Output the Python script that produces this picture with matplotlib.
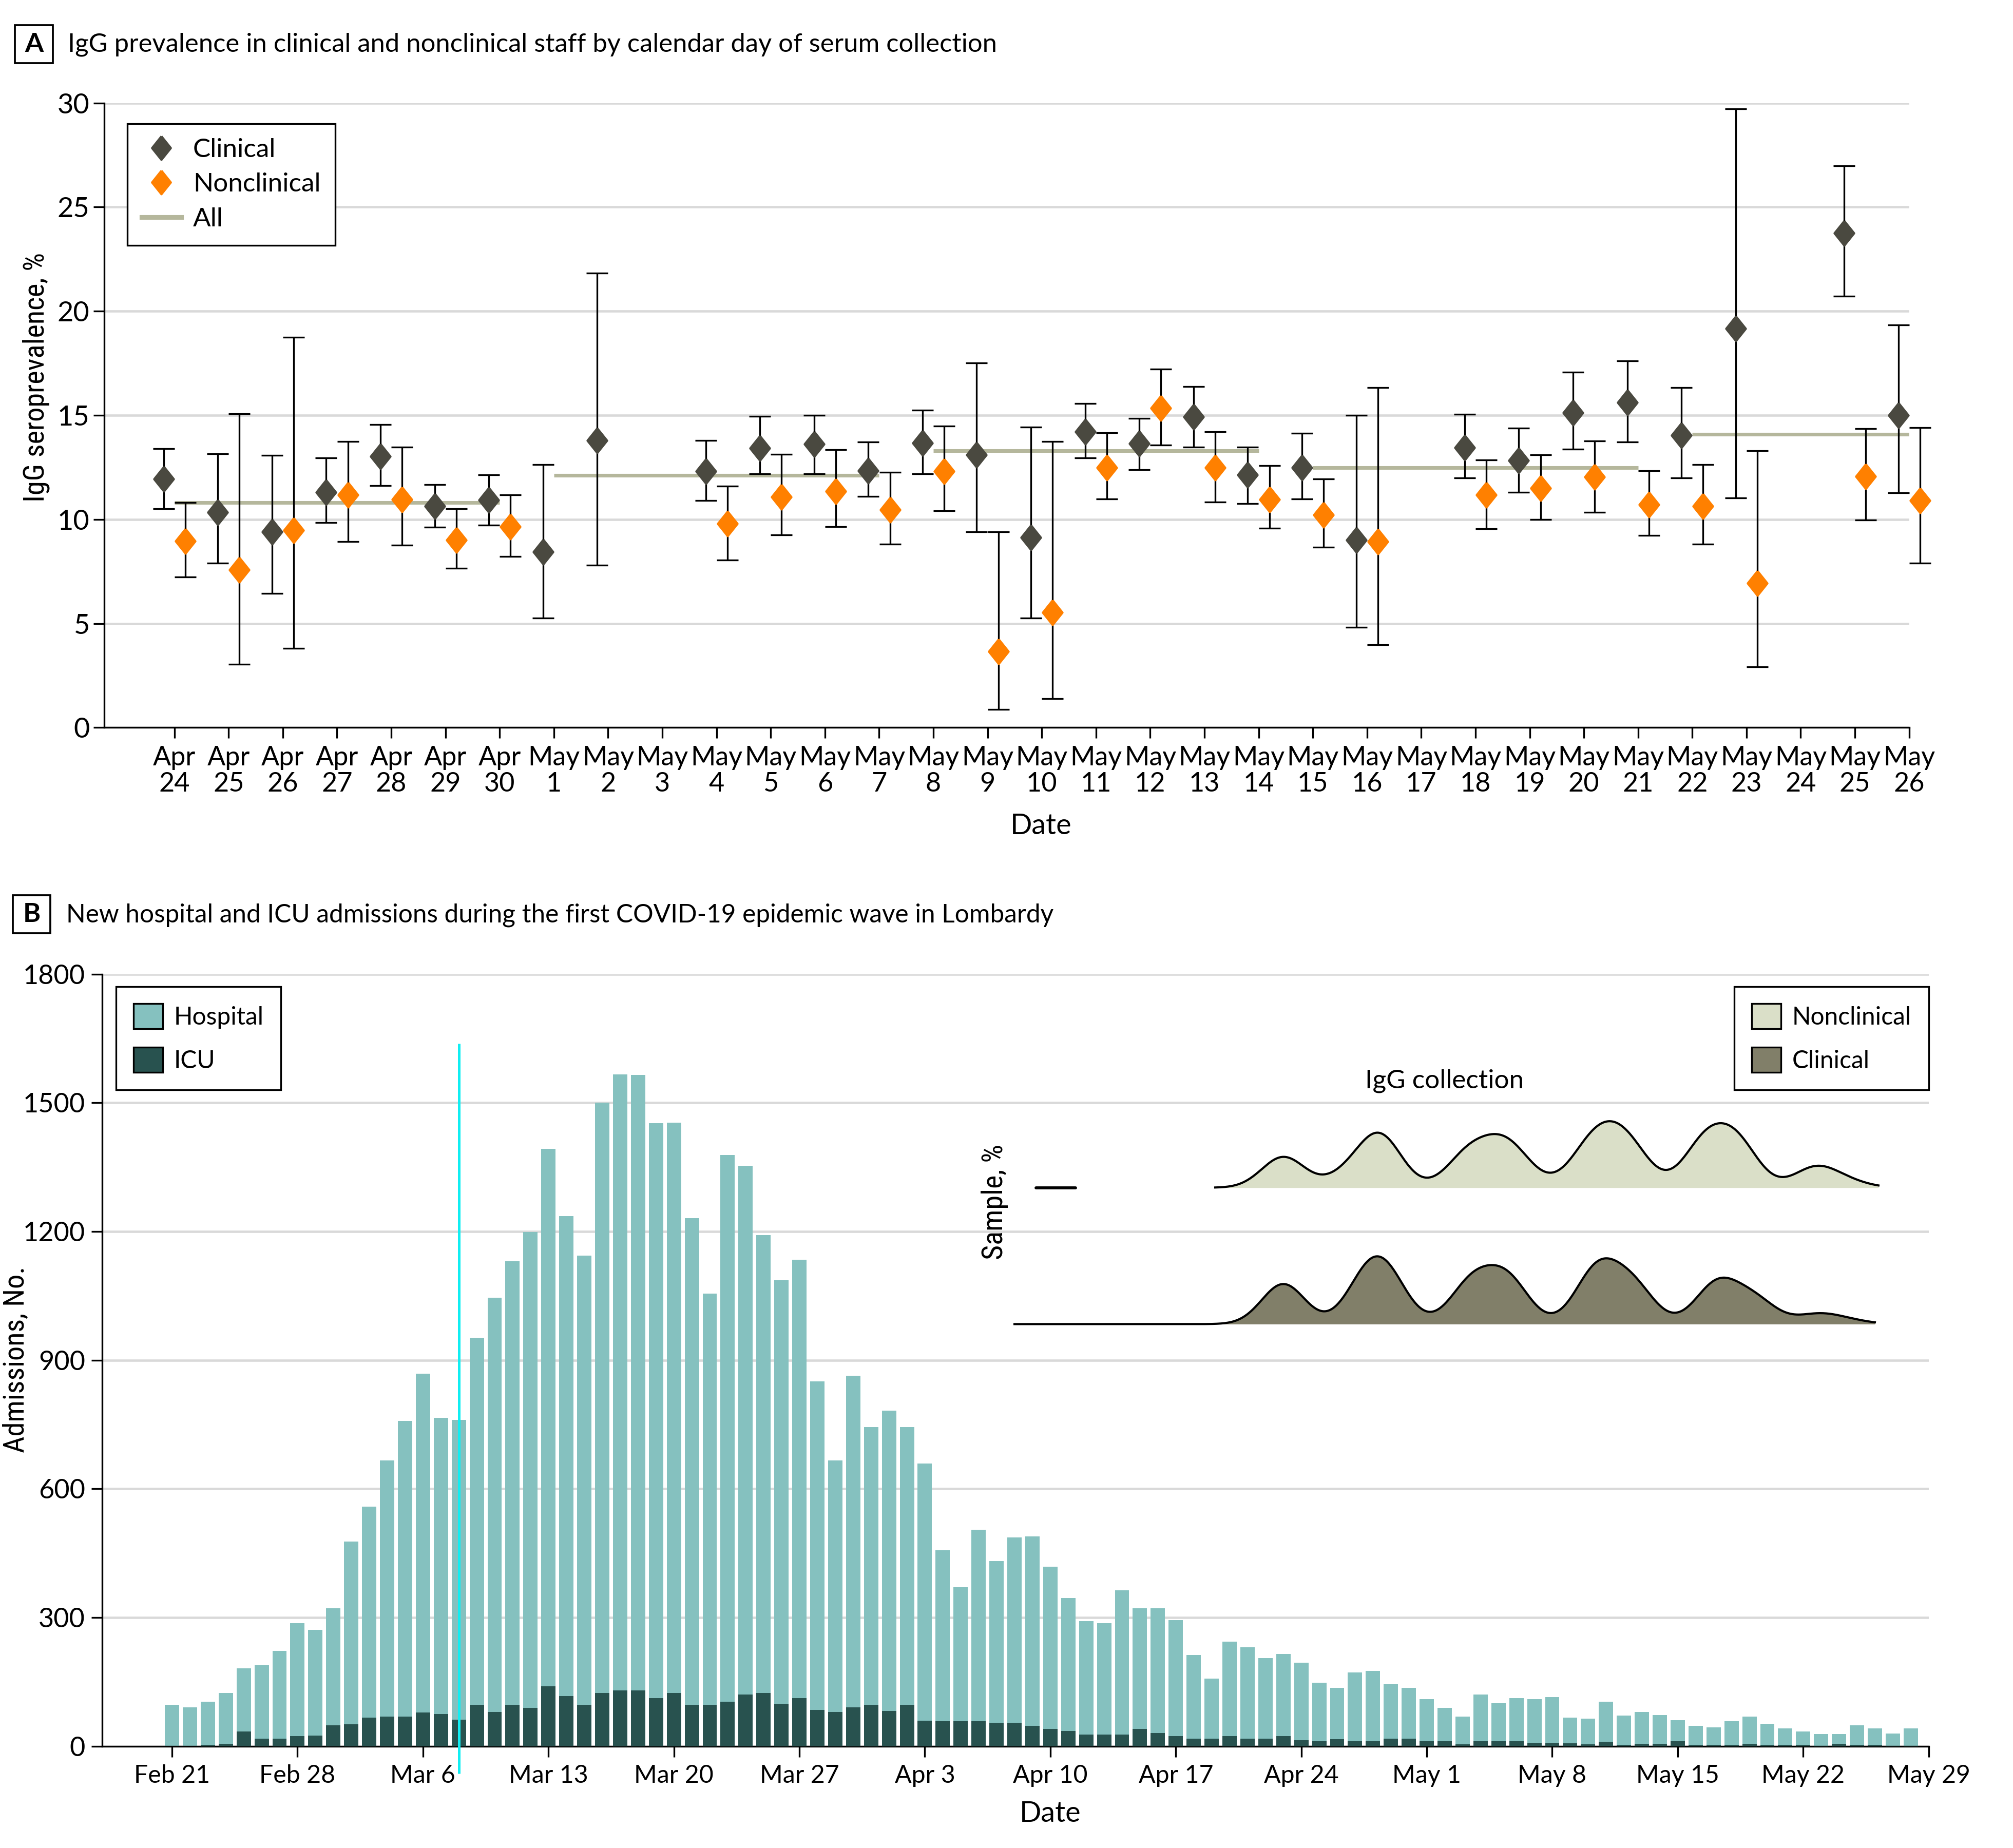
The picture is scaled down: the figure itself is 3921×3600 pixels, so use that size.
import numpy as np
import pandas as pd
import matplotlib
matplotlib.use('Agg')
from matplotlib import pyplot as plt
from matplotlib import font_manager
from matplotlib.lines import Line2D
from matplotlib.patches import Patch, Rectangle

nan = np.nan

# ---- panel A: IgG seroprevalence by day of serum collection ----
serum_dates = pd.date_range('2020-04-24', '2020-05-26')
clin = [11.93, 10.35, 9.39, 11.31, 13.02, 10.64, 10.94, 8.45, 13.80, nan, 12.30, 13.42, 13.61, 12.33,
        13.66, 13.10, 9.12, 14.20, 13.64, 14.92, 12.14, 12.49, 9.01, nan, 13.45, 12.83, 15.11, 15.61,
        14.04, 19.17, nan, 23.74, 15.00]
clin_lo = [10.50, 7.89, 6.44, 9.84, 11.63, 9.63, 9.71, 5.27, 7.81, nan, 10.90, 12.19, 12.19, 11.10,
           12.19, 9.41, 5.27, 12.94, 12.38, 13.48, 10.75, 10.99, 4.81, nan, 11.98, 11.31, 13.37, 13.72,
           11.98, 11.02, nan, 20.72, 11.28]
clin_hi = [13.40, 13.15, 13.07, 12.94, 14.55, 11.68, 12.14, 12.62, 21.82, nan, 13.80, 14.95, 15.00, 13.72,
           15.24, 17.51, 14.44, 15.56, 14.84, 16.39, 13.48, 14.14, 15.00, nan, 15.05, 14.39, 17.06, 17.62,
           16.34, 29.71, nan, 26.98, 19.33]
noncl = [8.96, 7.57, 9.47, 11.18, 10.96, 9.01, 9.65, nan, nan, nan, 9.79, 11.07, 11.36, 10.45,
         12.30, 3.66, 5.53, 12.49, 15.35, 12.49, 10.96, 10.21, 8.93, nan, 11.18, 11.50, 12.03, 10.72,
         10.64, 6.93, nan, 12.06, 10.91]
noncl_lo = [7.22, 3.05, 3.80, 8.93, 8.77, 7.65, 8.21, nan, nan, nan, 8.05, 9.25, 9.65, 8.80,
            10.40, 0.86, 1.39, 10.99, 13.58, 10.83, 9.57, 8.66, 3.98, nan, 9.55, 10.00, 10.35, 9.22,
            8.82, 2.91, nan, 9.97, 7.89]
noncl_hi = [10.80, 15.08, 18.74, 13.74, 13.48, 10.51, 11.18, nan, nan, nan, 11.60, 13.13, 13.34, 12.27,
            14.47, 9.39, 13.74, 14.17, 17.22, 14.22, 12.59, 11.95, 16.34, nan, 12.86, 13.10, 13.77, 12.33,
            12.62, 13.29, nan, 14.36, 14.41]
# weekly prevalence for all staff (first and last day index of each week)
all_start = [0, 7, 14, 21, 28]
all_end = [6, 13, 20, 27, 32]
all_value = [10.80, 12.11, 13.29, 12.49, 14.09]

# ---- panel B: daily admissions in Lombardy ----
adm_dates = pd.date_range('2020-02-21', '2020-05-28')
hospital = [96, 90, 104, 124, 182, 189, 222, 287, 271,
            321, 477, 559, 666, 758, 868, 765, 761, 952, 1045, 1131, 1199, 1392, 1236, 1144, 1500,
            1566, 1565, 1452, 1454, 1231, 1055, 1378, 1353, 1192, 1086, 1134, 850, 666, 864, 744,
            782, 744, 659, 457, 371, 504, 432, 487, 489, 418, 346, 291, 287, 363, 322, 322, 294,
            213, 158, 244, 230, 206, 215, 195, 148, 136, 172, 175, 144, 136,
            110, 89, 69, 120, 100, 112, 110, 114, 66, 64, 104, 71, 80, 72, 61, 47, 44, 58, 69, 52,
            41, 34, 28, 28, 49, 42, 30, 41]
icu = [0, 0, 3, 6, 34, 17, 18, 24, 25,
       49, 51, 66, 69, 69, 78, 75, 62, 96, 80, 96, 89, 140, 117, 96, 124, 130, 130, 112, 124, 96,
       96, 104, 120, 124, 99, 112, 85, 80, 90, 96,
       82, 96, 59, 58, 58, 58, 55, 55, 48, 40, 35, 27, 27, 27, 40, 31, 24, 18, 17, 23, 18, 17, 24,
       14, 11, 16, 12, 12, 18, 17,
       11, 11, 4, 11, 11, 11, 8, 8, 7, 4, 10, 3, 6, 6, 11, 3, 3, 3, 6, 3, 3, 3, 1, 6, 3, 3, 1, 1]
lockdown_date = '2020-03-08'

# sample share by collection timing (day offset from Feb 21), smoothed into the ridges
nonclin_kde_day = [62.0, 65.6, 67.4, 72.3, 74.2, 75.3, 79.0, 80.2, 81.4, 85.5, 87.3, 91.7, 93.5]
nonclin_kde_weight = [46, 18, 76, 48, 53, 18, 45, 45, 45, 64, 64, 30, 8]
clin_kde_day = [62.0, 66.6, 67.8, 72.5, 74.5, 79.5, 81.5, 86.2, 88.3, 91.8, 93.5]
clin_kde_weight = [60, 55, 60, 60, 65, 80, 55, 60, 35, 14, 5]
nonclin_kde_range = (58.2, 95.2)
clin_kde_range = (47.0, 95.0)
kde_bw = 1.2

# ---- style ----
names = {f.name for f in font_manager.fontManager.ttflist}
main_font = 'Lato' if 'Lato' in names else 'DejaVu Sans'
narrow_font = next((n for n in ['Liberation Sans Narrow', 'Roboto Condensed', 'Open Sans Condensed']
                    if n in names), main_font)
plt.rcParams['font.family'] = [main_font, 'DejaVu Sans']

clin_color = '#4a4940'
noncl_color = '#ff8000'
all_color = '#b5b79c'
hosp_color = '#85c1bf'
icu_color = '#28524f'
dens_noncl_color = '#dadfc8'
dens_clin_color = '#817f69'
grid_color = '#d9d9d9'
diamond = [(0, 1), (0.8, 0), (0, -1), (-0.8, 0), (0, 1)]

fig = plt.figure(figsize=(3921 / 300, 3600 / 300), dpi=300)


def style_axes(ax):
    for side in ['top', 'right']:
        ax.spines[side].set_visible(False)
    for side in ['left', 'bottom']:
        ax.spines[side].set_linewidth(0.8)
    ax.grid(axis='y', color=grid_color, lw=1.1)
    ax.set_axisbelow(True)
    ax.tick_params(length=5, width=0.8, labelsize=12.5)


# ================= panel A =================
axA = fig.add_axes([0.0519, 0.6063, 0.8965, 0.3380])
style_axes(axA)
xA = np.arange(len(serum_dates))
axA.set_xlim(-1.29, 32)
axA.set_ylim(0, 30)
axA.set_yticks(range(0, 31, 5))
axA.tick_params(axis='y', pad=2, labelsize=13)
axA.set_xticks(xA)
axA.set_xticklabels([d.strftime('%b') + '\n' + str(d.day) for d in serum_dates], linespacing=1.1)

axA.hlines(all_value, all_start, all_end, color=all_color, lw=1.7, zorder=2)


def draw_group(xpos, mid, lo, hi, color):
    mid, lo, hi = np.array(mid), np.array(lo), np.array(hi)
    ok = ~np.isnan(mid)
    eb = axA.errorbar(xpos[ok], mid[ok], yerr=[mid[ok] - lo[ok], hi[ok] - mid[ok]], fmt='none',
                      ecolor='black', elinewidth=0.8, capsize=5, capthick=0.8, zorder=3)
    for art in eb.get_children():
        art.set_clip_on(False)
    axA.plot(xpos[ok], mid[ok], ls='none', marker=diamond, ms=11.5, color=color, zorder=4, clip_on=False)


draw_group(xA - 0.2, clin, clin_lo, clin_hi, clin_color)
draw_group(xA + 0.2, noncl, noncl_lo, noncl_hi, noncl_color)

handlesA = [Line2D([], [], ls='none', marker=diamond, ms=11, color=clin_color, label='Clinical'),
            Line2D([], [], ls='none', marker=diamond, ms=11, color=noncl_color, label='Nonclinical'),
            Line2D([], [], color=all_color, lw=2.2, label='All')]
legA = axA.legend(handles=handlesA, loc='upper left', bbox_to_anchor=(0.0126, 0.967), borderaxespad=0,
                  fancybox=False, edgecolor='black', framealpha=1, fontsize=12.3, handlelength=1.5,
                  handletextpad=0.45, labelspacing=0.42, borderpad=0.55)
legA.get_frame().set_linewidth(0.8)

axA.set_xlabel('Date', fontsize=13.4)
axA.xaxis.set_label_coords(0.519, -0.137)
fig.text(0.0179, 0.7958, 'IgG seroprevalence, %', rotation=90, ha='center', va='center',
         family=[narrow_font, 'DejaVu Sans'], fontsize=13.5)

fig.patches.append(Rectangle((0.0075, 0.9658), 0.0187, 0.0205, transform=fig.transFigure,
                             fill=False, lw=0.9, edgecolor='black'))
fig.text(0.01685, 0.9760, 'A', ha='center', va='center', fontweight='bold', fontsize=12.5)
fig.text(0.0337, 0.9759, 'IgG prevalence in clinical and nonclinical staff by calendar day of serum collection',
         va='center', fontsize=12.2)

# ================= panel B =================
axB = fig.add_axes([0.0508, 0.0551, 0.9073, 0.4178])
style_axes(axB)
start = adm_dates[0]
xB = np.array([(d - start).days for d in adm_dates])
axB.bar(xB, hospital, width=0.8, color=hosp_color, zorder=2)
axB.bar(xB, icu, width=0.8, color=icu_color, zorder=3)
axB.set_xlim(-3.89, 98)
axB.set_ylim(0, 1800)
axB.set_yticks(range(0, 1801, 300))
axB.tick_params(axis='y', pad=3, labelsize=12.5)
axB.tick_params(axis='x', labelsize=11.6)
tick_dates = pd.date_range('2020-02-21', '2020-05-29', freq='7D')
axB.set_xticks([(d - start).days for d in tick_dates])
axB.set_xticklabels([d.strftime('%b') + ' ' + str(d.day) for d in tick_dates])

lock_x = (pd.Timestamp(lockdown_date) - start).days
axB.vlines(lock_x, -64, 1638, color='#10eef2', lw=1.2, zorder=6, clip_on=False)


def ridge(days, weights, rng):
    grid = np.linspace(rng[0], rng[1], 800)
    dens = np.zeros_like(grid)
    for p, w in zip(days, weights):
        dens += w * np.exp(-0.5 * ((grid - p) / kde_bw) ** 2)
    return grid, dens


g_n, d_n = ridge(nonclin_kde_day, nonclin_kde_weight, nonclin_kde_range)
g_c, d_c = ridge(clin_kde_day, clin_kde_weight, clin_kde_range)
scale = 155 / d_n.max()
for g, d, base, col in [(g_n, d_n, 1302, dens_noncl_color), (g_c, d_c, 984, dens_clin_color)]:
    axB.fill_between(g, base, base + scale * d, color=col, lw=0, zorder=4)
    axB.plot(g, base + scale * d, color='black', lw=1.0, zorder=5)

axB.plot([48.2, 50.4], [1302, 1302], color='black', lw=1.4, solid_capstyle='round', zorder=5)
axB.text(45.9, 1269, 'Sample, %', rotation=90, ha='center', va='center',
         family=[narrow_font, 'DejaVu Sans'], fontsize=13.5)
axB.text(71.0, 1551, 'IgG collection', ha='center', va='center', fontsize=12.3)

leg_kw = dict(borderaxespad=0, fancybox=False, edgecolor='black', framealpha=1, fontsize=11.5,
              handlelength=1.2, handleheight=1.2, labelspacing=0.75, handletextpad=0.45, borderpad=0.7)
leg1 = axB.legend(handles=[Patch(facecolor=hosp_color, edgecolor='black', lw=0.8, label='Hospital'),
                           Patch(facecolor=icu_color, edgecolor='black', lw=0.8, label='ICU')],
                  loc='upper left', bbox_to_anchor=(0.0076, 0.984), **leg_kw)
leg1.get_frame().set_linewidth(0.8)
axB.add_artist(leg1)
leg2 = axB.legend(handles=[Patch(facecolor=dens_noncl_color, edgecolor='black', lw=0.8, label='Nonclinical'),
                           Patch(facecolor=dens_clin_color, edgecolor='black', lw=0.8, label='Clinical')],
                  loc='upper right', bbox_to_anchor=(1.0, 0.984), **leg_kw)
leg2.get_frame().set_linewidth(0.8)

axB.set_xlabel('Date', fontsize=13.4)
axB.xaxis.set_label_coords(0.519, -0.0707)
fig.text(0.0077, 0.2642, 'Admissions, No.', rotation=90, ha='center', va='center',
         family=[narrow_font, 'DejaVu Sans'], fontsize=13.5)

fig.patches.append(Rectangle((0.0064, 0.4950), 0.0186, 0.0205, transform=fig.transFigure,
                             fill=False, lw=0.9, edgecolor='black'))
fig.text(0.0157, 0.5052, 'B', ha='center', va='center', fontweight='bold', fontsize=12.5)
fig.text(0.0330, 0.5047, 'New hospital and ICU admissions during the first COVID-19 epidemic wave in Lombardy',
         va='center', fontsize=11.9)

fig.savefig('out.png', dpi=300)
